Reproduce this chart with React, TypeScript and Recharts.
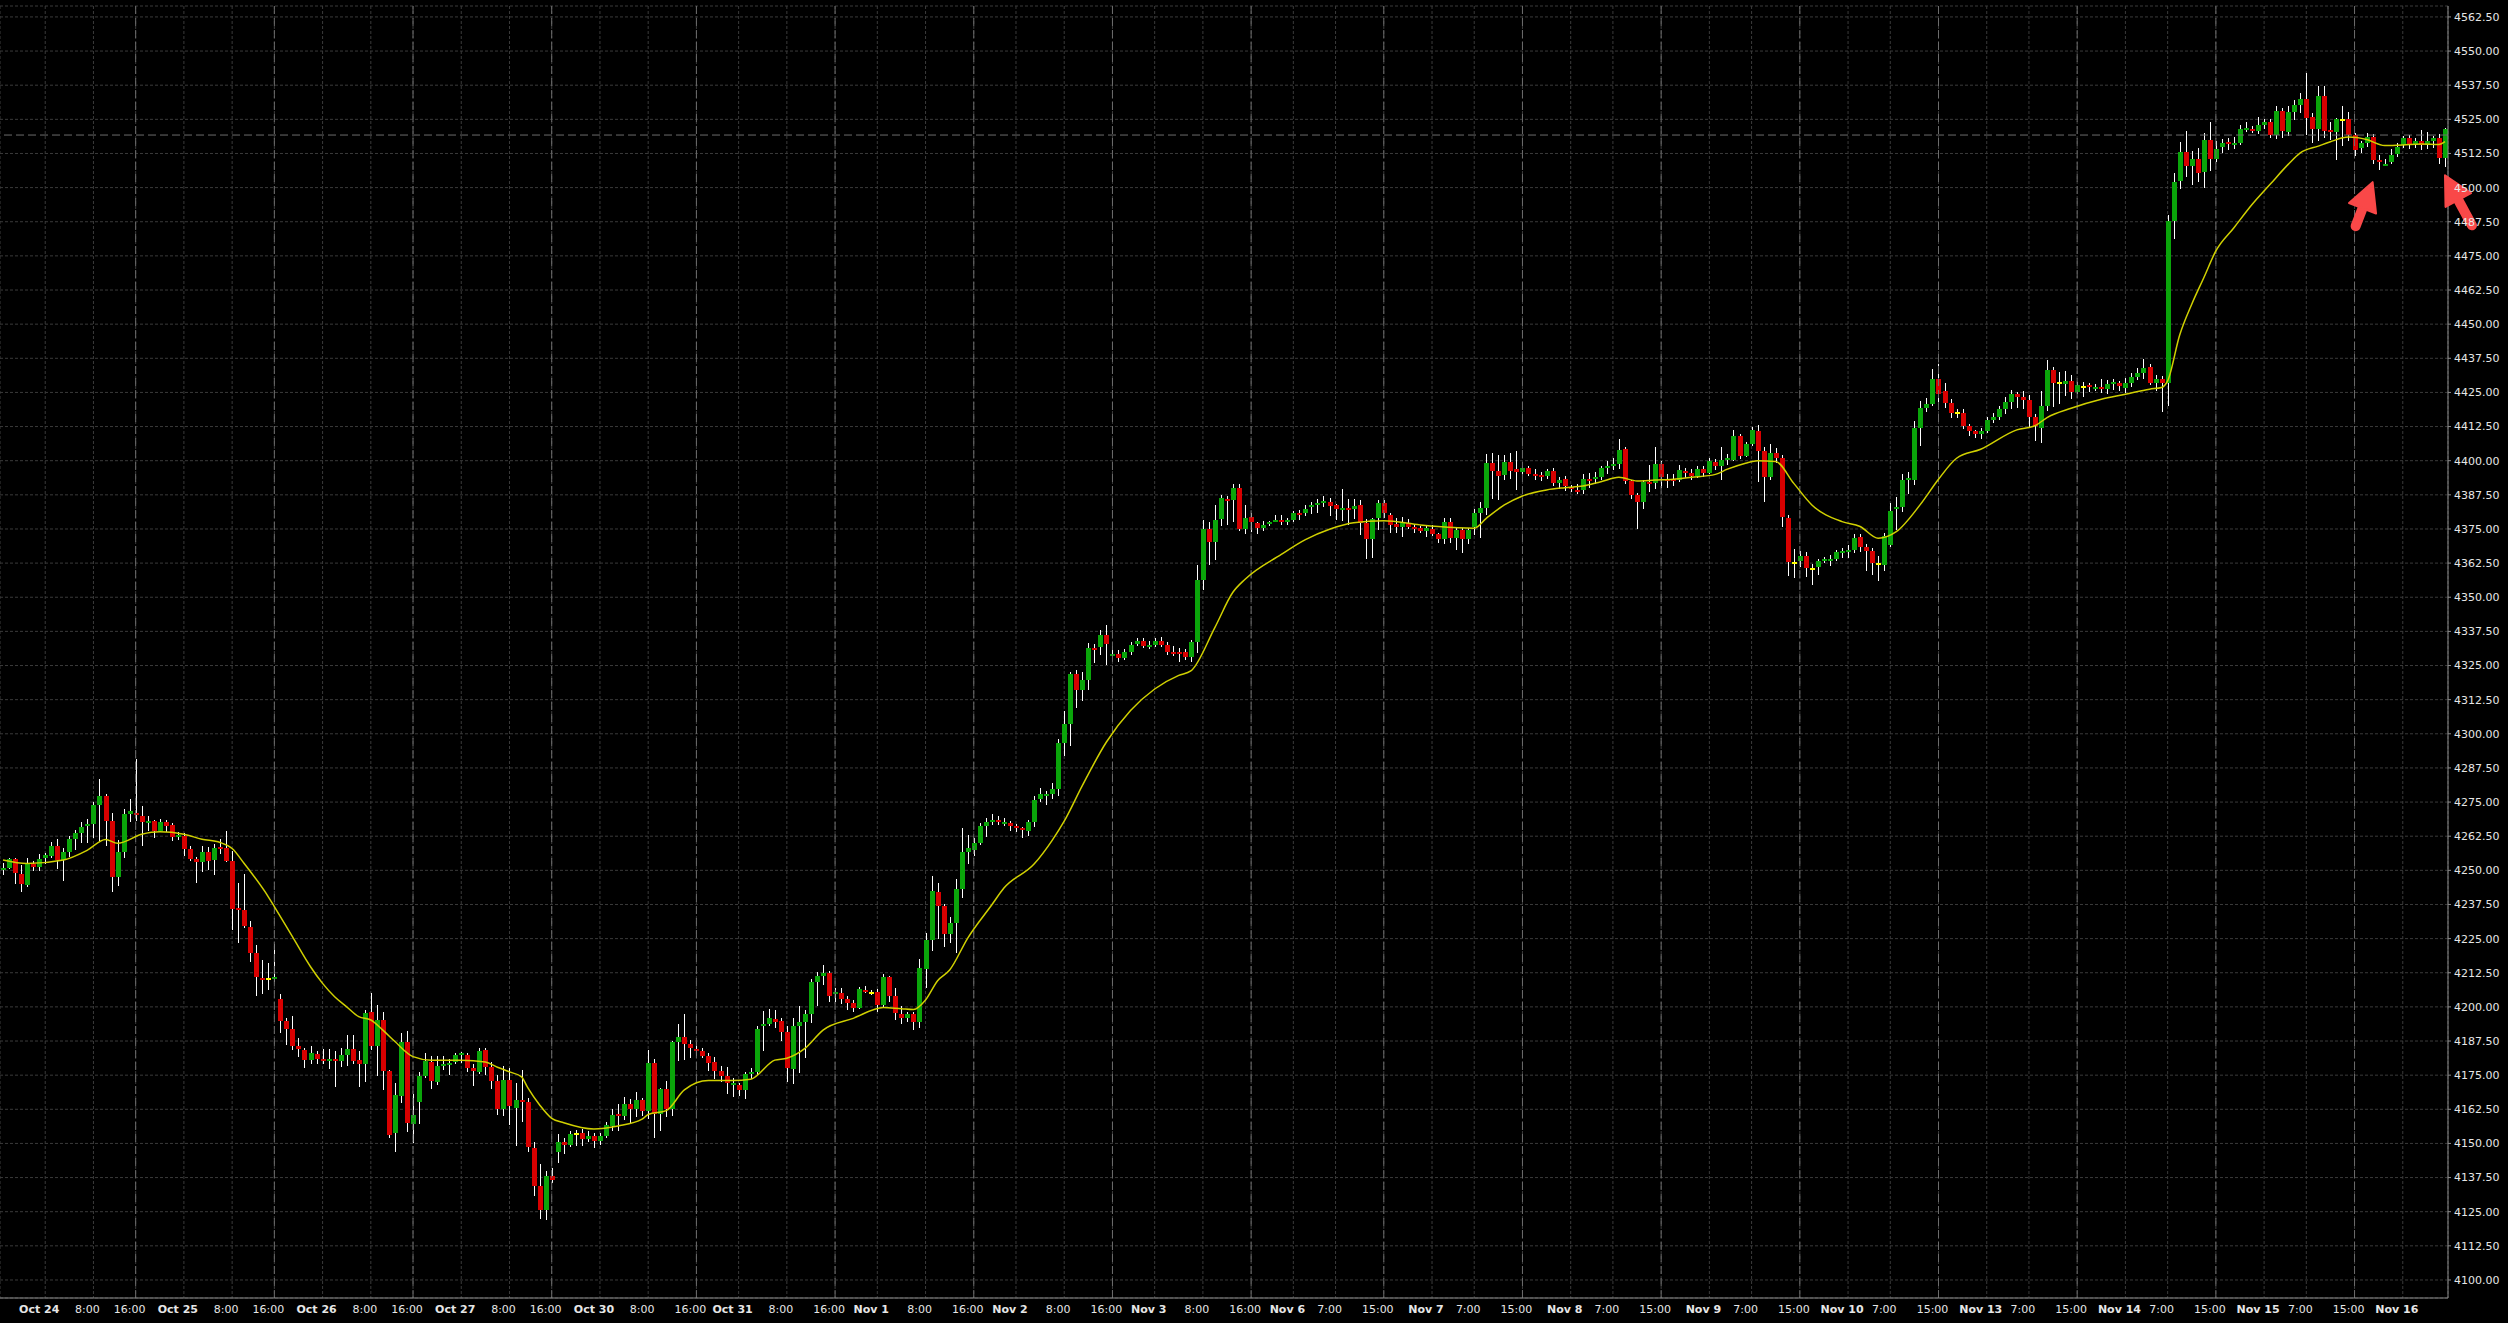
import React from 'react';
import {
  ComposedChart,
  Bar,
  Line,
  XAxis,
  YAxis,
  CartesianGrid,
  ReferenceLine,
  ReferenceDot,
} from 'recharts';

// hourly bars, Oct 24 -> Nov 16 (index = bar number)
const opens = [
  4250.5, 4251, 4254, 4248.7, 4244.6, 4252.3, 4251.3, 4254.5, 4255.2, 4258.9,
  4253.8, 4256.7, 4261.6, 4263.5, 4266.5, 4267, 4273.9, 4277.2, 4268.2, 4247.7,
  4256.7, 4270.6, 4271, 4269.9, 4267.5, 4268, 4264.4, 4267.8, 4266.6, 4262.1,
  4262.6, 4257.7, 4254.3, 4253.2, 4256.6, 4253.8, 4258.4, 4258.3, 4253.4, 4236.1,
  4235.5, 4229.1, 4219.6, 4210.7, 4210.3, 4210.2, 4202.8, 4194.8, 4191.9, 4185.7,
  4184.2, 4180.5, 4182.8, 4180.9, 4180.3, 4180.9, 4180.3, 4182.4, 4184.6, 4180.5,
  4179.2, 4198, 4185.7, 4195.2, 4176.5, 4153.7, 4167.5, 4187.3, 4157, 4165.3,
  4174.7, 4180, 4172.6, 4178.5, 4179, 4180, 4182.4, 4182.4, 4177.7, 4176.3,
  4184.2, 4178.1, 4172.9, 4162.7, 4173.2, 4163.1, 4166, 4165.3, 4148.5, 4134.4,
  4125.8, 4138, 4147, 4150.5, 4149.5, 4153.3, 4153.8, 4151.7, 4152.7, 4150.9,
  4152.8, 4156.3, 4160.9, 4160.2, 4164.6, 4162.5, 4165.9, 4161.9, 4179.3, 4160.8,
  4169.9, 4162.5, 4187, 4188.8, 4186.3, 4184.6, 4183.8, 4182, 4179.7, 4176.6,
  4174.7, 4171.8, 4171.5, 4169.5, 4175.4, 4176, 4193, 4193.7, 4195.4, 4194.8,
  4190.9, 4177.3, 4193, 4194.6, 4197.4, 4209, 4211.3, 4212.3, 4205, 4205.2,
  4202.8, 4201.3, 4199.7, 4206.2, 4205.2, 4205.6, 4200.7, 4210.8, 4204.1, 4197.3,
  4196, 4197.3, 4194.6, 4214, 4224.6, 4242.1, 4237, 4226.8, 4230.6, 4243.1,
  4256.6, 4257.5, 4260, 4266.3, 4267.6, 4268.6, 4267.3, 4267.5, 4266.3, 4265.6,
  4264.5, 4267.6, 4276.3, 4277.6, 4277.8, 4279.8, 4296.6, 4303.7, 4321.8, 4316,
  4319.7, 4331.5, 4331.6, 4336.3, 4328.6, 4329.3, 4327.9, 4329.9, 4333, 4334,
  4331.9, 4332.6, 4334, 4332.5, 4330, 4330, 4330, 4328.2, 4333.6, 4356.4,
  4374.9, 4370.2, 4378.8, 4386, 4385.5, 4390.1, 4374.9, 4379.3, 4377.2, 4375.3,
  4377.1, 4378, 4378.3, 4377.6, 4378.3, 4380.7, 4380.7, 4382.9, 4384, 4384.4,
  4385, 4383.8, 4382.2, 4382.8, 4382.4, 4383.8, 4377.3, 4371.2, 4379.2, 4384.4,
  4380.1, 4376.8, 4375.6, 4377.1, 4375.9, 4375.3, 4374.4, 4375, 4373.2, 4371.2,
  4377.4, 4371.8, 4374.6, 4371.2, 4375.9, 4381, 4382.8, 4399.1, 4396.4, 4394.8,
  4399.7, 4396.9, 4396, 4397.3, 4395.2, 4394.8, 4394.5, 4396.2, 4392, 4393.2,
  4390.2, 4389.3, 4389.3, 4393.3, 4393.3, 4393.9, 4397.2, 4398.6, 4398.8, 4404.2,
  4392.6, 4387.5, 4385, 4392.3, 4391.7, 4398.8, 4393.3, 4393.2, 4392.9, 4396.4,
  4395.6, 4394.5, 4397, 4395.6, 4399.4, 4398.2, 4400.3, 4400.3, 4409.1, 4401.7,
  4406.1, 4410.9, 4403.7, 4394.2, 4403, 4401.1, 4379.2, 4362.7, 4363.3, 4365.1,
  4360.2, 4360.9, 4363.3, 4363.3, 4364, 4366.4, 4366.7, 4367.3, 4371.9, 4368.5,
  4367, 4362, 4361.8, 4369, 4382.6, 4383, 4393, 4393, 4412.1, 4419.3,
  4420.7, 4430, 4425.6, 4421, 4417.4, 4417.6, 4412.7, 4410.9, 4409.7, 4410.7,
  4414.8, 4416, 4418.8, 4421.6, 4424.3, 4423.4, 4422.1, 4416.1, 4411.9, 4420.1,
  4433.1, 4428.4, 4428.2, 4429.2, 4425.3, 4427.1, 4427.7, 4426.4, 4427, 4426.4,
  4428, 4428.4, 4426.7, 4428.3, 4430.7, 4432.2, 4434.3, 4428.6, 4429.8, 4428.6,
  4487.7, 4502.4, 4513, 4507.9, 4510.5, 4505.8, 4517.4, 4510.5, 4514.9, 4516.8,
  4515.7, 4516.2, 4521.6, 4521.6, 4520.7, 4522.9, 4524.1, 4519.4, 4528.2, 4520.4,
  4527.7, 4530.2, 4532.5, 4525.8, 4521.6, 4533.5, 4521, 4520.3, 4524.9, 4525.2,
  4519.1, 4514.5, 4516.4, 4518.5, 4510, 4508.4, 4509.4, 4512.4, 4515.6, 4518,
  4515.6, 4517, 4515.6, 4517, 4518, 4510.7,
];

const highs = [
  4252.8, 4254.7, 4254.7, 4252, 4254.4, 4253.3, 4256, 4256.5, 4260.2, 4261.5,
  4258, 4262.6, 4264.8, 4267.6, 4268.7, 4275, 4283.3, 4277.9, 4271, 4261.2,
  4272.4, 4276, 4290.8, 4273.5, 4270, 4268.5, 4268.7, 4268.5, 4267.5, 4264,
  4263.5, 4258.9, 4255, 4259, 4258.5, 4259.5, 4261.5, 4264.4, 4257, 4245.5,
  4248.6, 4231.5, 4222.6, 4217, 4216, 4223, 4204.7, 4196, 4196.5, 4188.5,
  4185, 4185.5, 4183.7, 4184.5, 4184.5, 4183.8, 4185, 4189.7, 4189.7, 4184,
  4199, 4205, 4200.6, 4198, 4177, 4172, 4190.3, 4191, 4168, 4176.2,
  4183, 4182, 4182, 4182, 4181, 4183, 4183.4, 4183, 4179, 4185,
  4185, 4180, 4175, 4178.5, 4177.5, 4172, 4177, 4166.5, 4150.7, 4142.6,
  4140, 4141, 4153.5, 4152, 4154.5, 4155, 4155.3, 4154.5, 4154, 4153.8,
  4157.8, 4162.5, 4164.3, 4167, 4166.4, 4169, 4166.5, 4184.2, 4181, 4170.4,
  4172.8, 4187.5, 4193.7, 4197.4, 4188, 4187, 4185, 4183, 4181.5, 4178.5,
  4178, 4174, 4172.2, 4176.3, 4177.5, 4193, 4198.5, 4199.2, 4199, 4196,
  4193, 4195.8, 4200.5, 4199, 4210.2, 4212.8, 4215.4, 4213, 4207, 4206.8,
  4204, 4202.5, 4207.4, 4207.5, 4206, 4206.5, 4212, 4211.4, 4207, 4200.5,
  4198, 4198, 4217.6, 4227, 4248, 4245.5, 4237.5, 4233, 4247, 4265.5,
  4263, 4262, 4267.5, 4269, 4270.5, 4270, 4269, 4268, 4267, 4266,
  4268.5, 4277.3, 4280, 4279, 4282, 4298.2, 4308.5, 4322.5, 4323.3, 4322.5,
  4333.2, 4333, 4338, 4340, 4332, 4330.5, 4331, 4333.5, 4335, 4335,
  4334, 4335.2, 4335.4, 4333.5, 4332, 4331.5, 4331, 4334.5, 4361.8, 4378.3,
  4377.5, 4383.6, 4387.6, 4387, 4391.5, 4391.6, 4383.8, 4381, 4377.5, 4378,
  4378, 4380, 4380, 4379, 4381.5, 4382.1, 4383.7, 4385, 4386, 4387,
  4386.5, 4384.2, 4389.8, 4386, 4386, 4385.5, 4378.5, 4379, 4385.5, 4385.5,
  4381, 4379, 4379.5, 4378.5, 4376.5, 4376, 4376, 4376.5, 4373.5, 4379,
  4379, 4375.5, 4375.3, 4375.5, 4382.2, 4385, 4402.5, 4402.7, 4402, 4402,
  4403, 4403.5, 4398, 4398, 4397, 4396, 4397, 4397.2, 4394, 4394.5,
  4391, 4391.3, 4395, 4395.5, 4396, 4398, 4400, 4401, 4408, 4405,
  4393, 4388, 4393, 4398.5, 4405, 4400, 4395, 4395, 4398.5, 4397.5,
  4397, 4398, 4398, 4401, 4400.5, 4405, 4402.5, 4411.3, 4409.8, 4407,
  4412.5, 4413, 4405, 4406, 4404.5, 4402, 4380.2, 4367.7, 4367, 4366.5,
  4362, 4364, 4364.6, 4365.5, 4367.2, 4368, 4369, 4373, 4373, 4369.5,
  4368, 4365, 4373.5, 4384.5, 4386.6, 4395, 4396, 4414.5, 4422, 4423,
  4433.4, 4435.3, 4428.6, 4422.5, 4419, 4419, 4413.5, 4411.3, 4412, 4416,
  4417.3, 4420, 4423.2, 4426, 4425, 4425.6, 4424, 4417, 4425.5, 4437,
  4434.4, 4432.5, 4433, 4431.3, 4428.7, 4429, 4428.3, 4428, 4430, 4429.5,
  4430, 4429.2, 4430.2, 4432, 4434, 4437.3, 4435.3, 4431.5, 4431, 4490,
  4505.5, 4516.7, 4520.7, 4513.5, 4514.6, 4520, 4524, 4517, 4517.8, 4518,
  4518.5, 4523, 4524, 4522.5, 4526, 4525, 4525.3, 4530, 4529.2, 4530,
  4532, 4534.5, 4541.8, 4527.5, 4537.2, 4537.2, 4524, 4525.6, 4529.7, 4527.8,
  4520, 4517, 4520, 4519.5, 4512, 4510.5, 4514, 4516.3, 4519, 4519.3,
  4518.3, 4521, 4520.5, 4519, 4519.5, 4521.9,
];

const lows = [
  4248.3, 4250.7, 4245.2, 4242.2, 4243.6, 4249.5, 4249.9, 4252.5, 4254.4, 4250.5,
  4246, 4255, 4257.5, 4260, 4260, 4262, 4260.4, 4259, 4242.2, 4244.5,
  4254.6, 4267.5, 4268, 4259, 4264.4, 4262, 4264, 4264, 4261, 4261,
  4255, 4253.5, 4245.5, 4249.5, 4250, 4248, 4256, 4253, 4228, 4223.5,
  4229, 4216.5, 4203.8, 4204.5, 4206, 4209, 4190.3, 4186.2, 4184, 4181.7,
  4177.8, 4179, 4179, 4179, 4177.2, 4170.5, 4178, 4178.5, 4179, 4171,
  4172.7, 4184, 4174.5, 4169.6, 4152, 4146.6, 4164.5, 4154, 4150, 4157,
  4174, 4170, 4171.5, 4177, 4175, 4179, 4179.5, 4176, 4171, 4175.5,
  4175, 4170, 4160.5, 4160.3, 4156.5, 4149, 4158, 4146.6, 4131, 4122.4,
  4122, 4135.5, 4143, 4146, 4148.5, 4149, 4149, 4150.5, 4148.5, 4149.5,
  4152, 4154.5, 4154.5, 4158.5, 4157.5, 4160, 4159.8, 4158.9, 4152, 4154.5,
  4159.5, 4160, 4180.3, 4180.5, 4181.5, 4181.8, 4181.5, 4176.5, 4173.3, 4172.5,
  4168, 4167, 4167.5, 4166.5, 4173.5, 4175, 4184, 4193, 4192.5, 4187.5,
  4172.5, 4171.7, 4176, 4181.3, 4194, 4200.5, 4208, 4201.7, 4202, 4201,
  4199, 4198, 4199.5, 4204.8, 4204.2, 4198, 4200, 4202, 4195.3, 4194,
  4194.2, 4191.3, 4192.5, 4207, 4220.5, 4225, 4221.9, 4223.5, 4220, 4240,
  4252.5, 4255.5, 4259.5, 4262, 4266.5, 4266.6, 4266, 4264.5, 4264, 4262,
  4262.5, 4266, 4275, 4274, 4276, 4277.5, 4292, 4295.5, 4309.5, 4312,
  4316, 4326, 4329, 4325.5, 4326.5, 4326, 4327, 4328.7, 4332, 4331.5,
  4331, 4332, 4331.8, 4328.6, 4328.3, 4326.5, 4327, 4326.4, 4329.5, 4352.6,
  4361.8, 4363.5, 4376.2, 4376.4, 4377.7, 4374.3, 4373.2, 4374, 4373.2, 4374.5,
  4376, 4377.5, 4376.5, 4376.6, 4377.5, 4378.5, 4379.5, 4380.5, 4381, 4383,
  4380, 4378.5, 4378, 4376.5, 4378.5, 4372.6, 4364, 4364.5, 4374.5, 4379,
  4373.5, 4373.5, 4372, 4375, 4373.5, 4373.5, 4371.8, 4372.5, 4369.8, 4369.5,
  4370, 4367.5, 4366, 4369.5, 4372.6, 4372, 4380, 4386, 4385.5, 4393,
  4393.5, 4389.2, 4394.6, 4394.2, 4393, 4392.6, 4393.5, 4390.5, 4389.7, 4389,
  4388.5, 4387.5, 4387.5, 4390, 4391.5, 4392.8, 4395.4, 4396.5, 4397, 4391.5,
  4386, 4374.8, 4382.5, 4388.5, 4389.5, 4390, 4389.8, 4390.5, 4392.3, 4394,
  4393, 4393.7, 4394, 4395, 4396.4, 4393, 4398.5, 4400, 4400.5, 4401.5,
  4405.5, 4392, 4385, 4393, 4399, 4375.5, 4357.8, 4357.2, 4361, 4357.2,
  4354.3, 4358, 4362.3, 4361.5, 4363, 4364.5, 4364.4, 4366, 4366.5, 4359.6,
  4358, 4356, 4359.6, 4368.5, 4374.5, 4381, 4388, 4391, 4405.5, 4418,
  4420, 4421.3, 4419.6, 4415.5, 4415.8, 4411.6, 4409, 4408.5, 4408, 4410,
  4413.6, 4415, 4417, 4419, 4419, 4419, 4412, 4407, 4406.6, 4418.4,
  4419.7, 4420.6, 4424, 4422.5, 4424.4, 4423.4, 4425, 4425.6, 4424.8, 4424.5,
  4426, 4425.4, 4424.8, 4427, 4429.5, 4429.9, 4427.5, 4425.6, 4418, 4420,
  4481.5, 4499.5, 4504, 4501, 4502, 4500, 4506, 4509.3, 4512.8, 4513.5,
  4514, 4515.5, 4520.5, 4520, 4519.8, 4521.5, 4518.3, 4518, 4518.3, 4519,
  4524.5, 4527, 4519, 4516.6, 4517, 4518.3, 4517.4, 4510.2, 4515, 4517,
  4511.6, 4512.5, 4515, 4508.5, 4506.5, 4508, 4508.5, 4511, 4514.6, 4514.3,
  4514.5, 4513.5, 4514.2, 4514.5, 4508.6, 4507.5,
];

const closes = [
  4251, 4254, 4248.9, 4245, 4252.3, 4251.3, 4254, 4255.5, 4258.9, 4253.8,
  4256.7, 4261.6, 4263.5, 4265.7, 4267, 4273.9, 4277.2, 4268.2, 4247.7, 4256.7,
  4270.6, 4271.7, 4270.4, 4267.8, 4268, 4264.4, 4267.8, 4266.2, 4262.1, 4263,
  4257.9, 4254.3, 4253.2, 4256.6, 4253.5, 4258.3, 4257.8, 4253.5, 4235.9, 4235.7,
  4229.7, 4219.8, 4211, 4210.2, 4210.3, 4210.9, 4194.8, 4191.9, 4185.7, 4184.6,
  4180.5, 4183, 4180.9, 4180.3, 4180.9, 4180.3, 4182.4, 4184.6, 4180.2, 4179.2,
  4197.6, 4185.7, 4195.2, 4176.6, 4153, 4167.7, 4187.3, 4157.3, 4160.4, 4174.7,
  4180.2, 4173, 4178.5, 4179.1, 4179.4, 4182.4, 4183.1, 4177.7, 4176.6, 4183.8,
  4178.1, 4173, 4162.5, 4173.2, 4163.7, 4165.9, 4165.3, 4148.6, 4134.4, 4125.8,
  4138, 4136.6, 4150.5, 4149.5, 4153.4, 4153.3, 4151.7, 4152.7, 4150.9, 4152.7,
  4156.7, 4160.4, 4160.2, 4164.4, 4162.5, 4165.9, 4161.9, 4179.3, 4160.8, 4169.9,
  4162.5, 4187, 4188.8, 4186.5, 4185.1, 4183.8, 4182, 4179.3, 4176.6, 4174.7,
  4172.2, 4172.3, 4169.5, 4175.4, 4176.1, 4191.9, 4193.7, 4195.8, 4194.5, 4190.9,
  4177.7, 4193, 4194.6, 4197.4, 4209, 4211.3, 4212.3, 4204.1, 4205.6, 4202.8,
  4201.5, 4199.7, 4206.4, 4205.7, 4205.2, 4200.7, 4210.8, 4204.1, 4197.6, 4196,
  4197.3, 4194.3, 4214.1, 4224.6, 4242.6, 4237, 4226.8, 4230.6, 4243.1, 4256.6,
  4258.1, 4260, 4266.3, 4267.6, 4268.6, 4267.6, 4267.7, 4266.3, 4265.6, 4265,
  4267.6, 4275.7, 4277.8, 4277.9, 4279.8, 4296.6, 4303.7, 4321.8, 4316, 4319.7,
  4331.3, 4331, 4336, 4332.9, 4329.3, 4327.9, 4329.9, 4332.5, 4334, 4332.2,
  4332.6, 4334, 4332.6, 4330, 4329.3, 4329.3, 4328.2, 4333.6, 4356.4, 4374.9,
  4370.2, 4378.3, 4386.4, 4385.5, 4390.1, 4374.9, 4379, 4377.6, 4375.3, 4376.3,
  4377.4, 4378.4, 4377.6, 4378.3, 4380.7, 4380.1, 4382.4, 4383.7, 4384.3, 4385.2,
  4383.5, 4382.2, 4382.8, 4382.2, 4383.4, 4377.3, 4371.2, 4378.6, 4384.4, 4380.7,
  4376.5, 4375.6, 4377.3, 4375.9, 4375.3, 4374.4, 4375.2, 4373.2, 4371.2, 4377.4,
  4371.8, 4374.6, 4371.2, 4374.6, 4381, 4382.8, 4399.3, 4396.4, 4394.4, 4399.7,
  4396.4, 4396, 4397.3, 4395.2, 4394.6, 4394.2, 4396.2, 4392, 4393, 4390.8,
  4389.5, 4388.7, 4393.3, 4392.7, 4393.9, 4397.2, 4398.1, 4398.9, 4403.9, 4392.7,
  4387.5, 4385, 4392.3, 4391.7, 4398.8, 4393.9, 4392.7, 4392.7, 4396.6, 4395.6,
  4394.5, 4397, 4395.4, 4399.9, 4398.2, 4400.3, 4400.9, 4409.1, 4401.7, 4406.1,
  4411.3, 4403.7, 4394.2, 4403, 4401.1, 4379.3, 4363, 4362.7, 4365.1, 4360.6,
  4360.2, 4363.3, 4364, 4364, 4366.4, 4366.7, 4367.3, 4371.8, 4368.5, 4367.1,
  4362.7, 4362, 4372.4, 4381.4, 4383.2, 4393, 4393.8, 4412.1, 4419.4, 4420.7,
  4430, 4424.6, 4421, 4417.6, 4417.4, 4412.7, 4410.9, 4409.7, 4410.7, 4414.8,
  4416, 4418.8, 4421.6, 4424.3, 4423.4, 4422.1, 4416.1, 4412.8, 4420.1, 4433.1,
  4428.6, 4428.4, 4429.2, 4425.3, 4427.7, 4427.1, 4427.1, 4427, 4426.4, 4428.2,
  4428.9, 4427.4, 4428.6, 4430.7, 4432.2, 4434.1, 4428.6, 4429.8, 4428.6, 4487.7,
  4502, 4513, 4507.9, 4510.5, 4505.4, 4517.4, 4510.5, 4514.3, 4516.4, 4516.2,
  4516.4, 4521.6, 4522, 4521, 4522.9, 4524.1, 4519.4, 4528.2, 4520.7, 4527.7,
  4530.2, 4532.5, 4525.6, 4521.6, 4533.5, 4520.7, 4520.3, 4525.2, 4524.9, 4519.1,
  4513.7, 4516.4, 4518.5, 4510, 4509.4, 4508.8, 4512.1, 4515, 4518, 4515.6,
  4517.2, 4515.6, 4517, 4518, 4510.7, 4521.3,
];

// moving average: [bar, value]
const maPoints: [number, number][] = [
  [0, 4253.8], [4, 4252.5], [10, 4253.8], [14, 4257.4], [17, 4261.3], [19, 4259.9],
  [23, 4263.2], [26, 4264.1], [30, 4263.2], [33, 4261.4], [36, 4260.2], [38, 4258],
  [40, 4252.5], [44, 4240.3], [45, 4236.7], [48, 4225.7], [51, 4214.7], [53, 4208.6],
  [55, 4203.7], [57, 4200], [59, 4196.4], [61, 4195.2], [63, 4191.5], [65, 4187.3],
  [68, 4181.8], [71, 4180.5], [76, 4180.5], [80, 4179.8], [82, 4177.9], [84, 4176.2],
  [86, 4174.4], [87, 4170.5], [89, 4164.1], [91, 4159.2], [93, 4157.6], [98, 4155.3],
  [102, 4156.4], [106, 4158.9], [107, 4160.6], [110, 4162], [113, 4169.6], [117, 4173],
  [121, 4173], [124, 4173.5], [128, 4180.5], [130, 4181.2], [133, 4184.8], [136, 4191.5],
  [141, 4195.8], [146, 4199.8], [149, 4199.3], [151, 4199], [153, 4202.5], [155, 4209.6],
  [157, 4213.5], [160, 4225.2], [164, 4237.4], [166, 4243.5], [171, 4252.3], [174, 4261],
  [176, 4268], [179, 4281], [183, 4297], [187, 4308.5], [191, 4316.4], [195, 4321.4],
  [197, 4323], [201, 4339], [204, 4351.9], [206, 4356.6], [212, 4365.7], [216, 4371.1],
  [220, 4374.9], [224, 4377.3], [229, 4378], [235, 4376.5], [238, 4375.9], [244, 4375.3],
  [246, 4378.9], [249, 4383.8], [252, 4387.1], [256, 4389.3], [259, 4390.1], [262, 4390.7],
  [265, 4392.3], [268, 4393.9], [271, 4392.6], [274, 4392.9], [277, 4393.2], [280, 4393.9],
  [284, 4395], [286, 4396.9], [289, 4399.1], [291, 4400], [294, 4399.7], [297, 4391.7],
  [300, 4383.8], [305, 4377.7], [308, 4375.9], [311, 4371.6], [314, 4374], [318, 4384],
  [321, 4393.2], [324, 4400.9], [328, 4404.2], [334, 4411.3], [337, 4412.8], [339, 4415.8],
  [343, 4419.2], [348, 4422.5], [352, 4424.3], [356, 4426.2], [358, 4426.8], [359, 4429.2],
  [361, 4446], [363, 4457.3], [365, 4467], [367, 4476.8], [370, 4485.3], [373, 4493.8],
  [376, 4501.2], [379, 4508.5], [381, 4512.7], [384, 4515.2], [386, 4516.8], [389, 4518.5],
  [392, 4517.6], [395, 4515.4], [398, 4515.6], [401, 4516], [404, 4515.8], [405, 4516.8],
];

const tickBars = [
  7, 15, 22, 30, 38, 45, 53, 61, 68, 76, 84, 91, 99, 107, 115, 122, 130, 138,
  145, 153, 161, 168, 176, 184, 191, 199, 207, 214, 221, 229, 237, 244, 252,
  260, 267, 275, 283, 290, 298, 306, 313, 321, 329, 336, 344, 352, 359, 367,
  375, 382, 390, 398,
];
const tickLabels = [
  'Oct 24', '8:00', '16:00', 'Oct 25', '8:00', '16:00', 'Oct 26', '8:00', '16:00',
  'Oct 27', '8:00', '16:00', 'Oct 30', '8:00', '16:00', 'Oct 31', '8:00', '16:00',
  'Nov 1', '8:00', '16:00', 'Nov 2', '8:00', '16:00', 'Nov 3', '8:00', '16:00',
  'Nov 6', '7:00', '15:00', 'Nov 7', '7:00', '15:00', 'Nov 8', '7:00', '15:00',
  'Nov 9', '7:00', '15:00', 'Nov 10', '7:00', '15:00', 'Nov 13', '7:00', '15:00',
  'Nov 14', '7:00', '15:00', 'Nov 15', '7:00', '15:00', 'Nov 16',
];

const priceTicks = [
  4100, 4112.5, 4125, 4137.5, 4150, 4162.5, 4175, 4187.5, 4200, 4212.5, 4225,
  4237.5, 4250, 4262.5, 4275, 4287.5, 4300, 4312.5, 4325, 4337.5, 4350, 4362.5,
  4375, 4387.5, 4400, 4412.5, 4425, 4437.5, 4450, 4462.5, 4475, 4487.5, 4500,
  4512.5, 4525, 4537.5, 4550, 4562.5,
];
const bidPrice = 4519.25;

// red arrows drawn on the screenshot (tip position)
const arrowMarks = [
  { bar: 393, price: 4502 },
  { bar: 405, price: 4504.5 },
];

const W = 2508;
const H = 1323;
const UP = '#0aa50a';
const DOWN = '#d80000';
const DOJI = '#ffff00';
const WICK = '#ffffff';
const MA_COLOR = '#d0d000';
const GRID = '#3a3a3a';
const SEP = '#6c6c6c';
const AXIS = '#8c8c8c';
const TEXT = '#e6e6e6';
const ARROW = '#f94848';
const FONT = 'DejaVu Sans';
const ARROW_TAILS: [number, number][] = [[-17, 44], [27, 50]];

const maByBar = new Map<number, number>(maPoints);
const data = closes.map((c, i) => ({
  bar: i,
  o: opens[i],
  h: highs[i],
  l: lows[i],
  c,
  range: [lows[i], highs[i]],
  ma: maByBar.has(i) ? maByBar.get(i) : null,
}));
const labelByBar = new Map<number, string>(tickBars.map((b, j) => [b, tickLabels[j]]));
const sessionBars = tickBars.filter((_, j) => /^1[56]:00$/.test(tickLabels[j]));

function Candle(props: any) {
  const { x, y, width, height, payload } = props;
  if (payload == null || x == null || y == null) return null;
  const { o, h, l, c } = payload;
  const top = Math.min(y, y + height);
  const span = Math.abs(height);
  const toY = (v: number) => (h > l ? top + ((h - v) / (h - l)) * span : top);
  const px = Math.round(x + width / 2 - 0.5);
  let bTop = Math.round(toY(Math.max(o, c)));
  let bBot = Math.round(toY(Math.min(o, c)));
  if (bBot - bTop < 2) {
    bTop = Math.round((bTop + bBot) / 2) - 1;
    bBot = bTop + 2;
  }
  const fill = o === c ? DOJI : c > o ? UP : DOWN;
  return (
    <g shapeRendering="crispEdges">
      <rect x={px} y={Math.round(top)} width={1} height={Math.max(1, Math.round(span))} fill={WICK} />
      <rect x={px - 2} y={bTop} width={5} height={bBot - bTop} fill={fill} />
    </g>
  );
}

function TimeTick(props: any) {
  const { x, y, payload } = props;
  const label = labelByBar.get(payload.value) ?? '';
  const isDate = !label.includes(':');
  return (
    <text
      x={x - 6}
      y={y + 15}
      textAnchor="middle"
      fill={TEXT}
      fontSize={11}
      fontFamily={FONT}
      fontWeight={isDate ? 700 : 400}
    >
      {label}
    </text>
  );
}

function Arrow(props: any) {
  const { cx, cy, tail } = props;
  if (cx == null || cy == null) return null;
  const [tx, ty] = tail;
  const len = Math.hypot(tx, ty);
  const ux = -tx / len;
  const uy = -ty / len;
  const nx = -uy;
  const ny = ux;
  const head = 28;
  const half = 14.5;
  const bx = cx - ux * head;
  const by = cy - uy * head;
  return (
    <g>
      <line
        x1={cx + tx}
        y1={cy + ty}
        x2={bx + ux * 3}
        y2={by + uy * 3}
        stroke={ARROW}
        strokeWidth={10}
        strokeLinecap="round"
      />
      <polygon
        points={`${cx},${cy} ${bx + nx * half},${by + ny * half} ${bx - nx * half},${by - ny * half}`}
        fill={ARROW}
        stroke={ARROW}
        strokeWidth={2}
        strokeLinejoin="round"
      />
    </g>
  );
}

export default function App() {
  return (
    <div style={{ width: W, height: H, background: '#000' }}>
      <style>{'body{margin:0;background:#000}'}</style>
      <ComposedChart
        width={W}
        height={H}
        data={data}
        margin={{ top: 6, right: 0, bottom: 0, left: 0 }}
        barCategoryGap={0}
      >
        <CartesianGrid stroke={GRID} strokeDasharray="3 2" />
        <XAxis
          dataKey="bar"
          type="category"
          ticks={tickBars}
          interval={0}
          tick={<TimeTick />}
          tickLine={false}
          tickSize={0}
          tickMargin={0}
          height={25}
          axisLine={{ stroke: AXIS }}
        />
        <YAxis
          orientation="right"
          width={60}
          domain={[4093.4, 4566.5]}
          allowDataOverflow
          ticks={priceTicks}
          interval={0}
          tickFormatter={(v: number) => v.toFixed(2)}
          tick={{ fill: TEXT, fontSize: 11, fontFamily: FONT }}
          tickSize={3}
          tickMargin={3}
          axisLine={{ stroke: AXIS }}
          tickLine={{ stroke: AXIS }}
        />
        {sessionBars.map((b) => (
          <ReferenceLine key={`sep-${b}`} x={b} stroke={SEP} strokeDasharray="8 4" />
        ))}
        <ReferenceLine y={bidPrice} stroke={SEP} strokeDasharray="8 4" />
        <Bar dataKey="range" shape={(p: any) => <Candle {...p} />} barSize={5} isAnimationActive={false} />
        <Line
          dataKey="ma"
          type="monotone"
          stroke={MA_COLOR}
          strokeWidth={1.5}
          dot={false}
          connectNulls
          isAnimationActive={false}
        />
        {arrowMarks.map((m, j) => (
          <ReferenceDot
            key={`arrow-${j}`}
            x={m.bar}
            y={m.price}
            shape={(p: any) => <Arrow {...p} tail={ARROW_TAILS[j]} />}
          />
        ))}
      </ComposedChart>
    </div>
  );
}
